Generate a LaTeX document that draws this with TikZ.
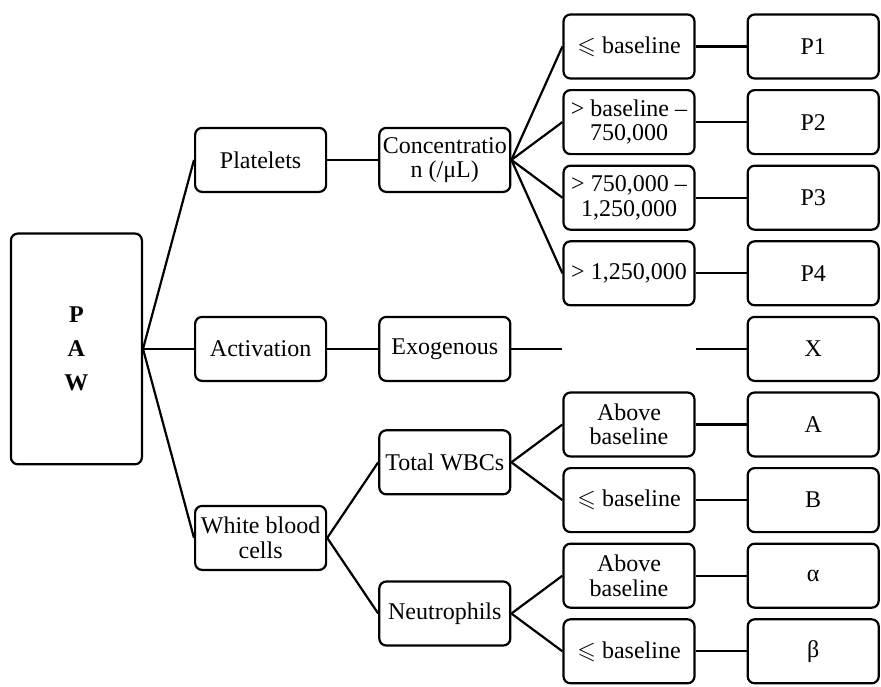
\documentclass[tikz,border=0pt]{standalone}
\usepackage{amssymb}
\usepackage{fontspec}
\setmainfont{Liberation Serif}
\usetikzlibrary{positioning,calc}

\begin{document}
\begin{tikzpicture}[x=0.5pt, y=-0.5pt, line width=1.1pt,
    node distance=4.7pt and 25.5pt,
    box/.style={draw, rounded corners=3.5pt, minimum width=65.5pt, minimum height=32pt,
        align=center, inner sep=1pt, font=\fontsize{12}{12.2}\selectfont}]

    \useasboundingbox (0,0) rectangle (881,686);

    % Levels (third column)
    \node[box] (lo1) at (629,46.5) {$\leqslant$ baseline};
    \node[box, below=of lo1] (lo2) {> baseline –\\750,000};
    \node[box, below=of lo2] (lo3) {> 750,000 –\\1,250,000};
    \node[box, below=of lo3] (lo4) {> 1,250,000};
    \node[box, below=of lo4, draw=none] (gap) {};
    \node[box, below=of gap] (wbcup) {Above\\baseline};
    \node[box, below=of wbcup] (wbclo) {$\leqslant$ baseline};
    \node[box, below=of wbclo] (neuup) {Above\\baseline};
    \node[box, below=of neuup] (neulo) {$\leqslant$ baseline};

    % Codes
    \node[box, right=of lo1] (p1) {P1};
    \node[box, right=of lo2] (p2) {P2};
    \node[box, right=of lo3] (p3) {P3};
    \node[box, right=of lo4] (p4) {P4};
    \node[box, right=of gap] (x) {X};
    \node[box, right=of wbcup] (a) {A};
    \node[box, right=of wbclo] (b) {B};
    \node[box, right=of neuup] (alpha) {α};
    \node[box, right=of neulo] (beta) {β};

    % Measures
    \coordinate (mconc) at ($(lo1.west)!0.5!(lo4.west)$);
    \node[box, left=of mconc] (conc) {Concentratio\\n (/μL)};
    \node[box, left=of gap] (exo) {Exogenous};
    \coordinate (mtot) at ($(wbcup.west)!0.5!(wbclo.west)$);
    \node[box, left=of mtot] (tot) {Total WBCs};
    \coordinate (mneu) at ($(neuup.west)!0.5!(neulo.west)$);
    \node[box, left=of mneu] (neu) {Neutrophils};

    % Components
    \node[box, left=of conc] (plt) {Platelets};
    \node[box, left=of exo] (act) {Activation};
    \coordinate (mwbc) at ($(tot.west)!0.5!(neu.west)$);
    \node[box, left=of mwbc] (wbc) {White blood\\cells};
    \node[box, left=of act, minimum height=115.4pt,
        font=\fontsize{12}{17}\selectfont\bfseries] (paw) {P\\A\\W};

    % Edges
    \foreach \n in {plt,act,wbc}
        \draw (paw.east) -- (\n.west);
    \draw (plt) -- (conc);
    \draw (act) -- (exo);
    \draw (wbc.east) -- (tot.west);
    \draw (wbc.east) -- (neu.west);
    \foreach \n in {lo1,lo2,lo3,lo4}
        \draw (conc.east) -- (\n.west);
    \draw (tot.east) -- (wbcup.west);
    \draw (tot.east) -- (wbclo.west);
    \draw (neu.east) -- (neuup.west);
    \draw (neu.east) -- (neulo.west);
    \draw (exo) -- (gap.west);
    \draw (gap.east) -- (x);
    \foreach \l/\c in {lo1/p1,lo2/p2,lo3/p3,lo4/p4,wbcup/a,wbclo/b,neuup/alpha,neulo/beta}
        \draw (\l) -- (\c);

\end{tikzpicture}
\end{document}
